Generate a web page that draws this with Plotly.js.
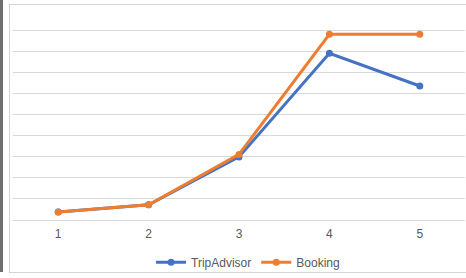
<!DOCTYPE html>
<html>
<head>
<meta charset="utf-8">
<script src="https://cdn.plot.ly/plotly-3.0.1.min.js"></script>
<style>
html,body{margin:0;padding:0;background:#fff;}
#wrap{position:relative;width:466px;height:278px;overflow:hidden;}
#bar{position:absolute;left:0;top:0;width:3px;height:272px;background:#6e6e6e;}
#frame{position:absolute;left:9px;top:4px;width:470px;height:269px;border:1px solid #d4d4d4;box-sizing:border-box;}
#chart{position:absolute;left:0;top:0;width:466px;height:278px;}
</style>
</head>
<body>
<div id="wrap">
<div id="bar"></div>
<div id="frame"></div>
<div id="chart"></div>
</div>
<script>
const categories = [1, 2, 3, 4, 5];
const tripAdvisor = [0.38, 0.72, 2.99, 7.9, 6.35];
const booking = [0.38, 0.72, 3.11, 8.8, 8.8];

const traces = [
  {x: categories, y: tripAdvisor, name: 'TripAdvisor', type: 'scatter', mode: 'lines+markers',
   line: {color: '#4472C4', width: 3}, marker: {color: '#4472C4', size: 7}},
  {x: categories, y: booking, name: 'Booking', type: 'scatter', mode: 'lines+markers',
   line: {color: '#ED7D31', width: 3}, marker: {color: '#ED7D31', size: 7}}
];

const layout = {
  width: 466, height: 278,
  margin: {l: 13, r: 1, t: 9, b: 56},
  paper_bgcolor: 'rgba(0,0,0,0)',
  plot_bgcolor: 'rgba(0,0,0,0)',
  font: {family: 'Liberation Sans, Arial, sans-serif', size: 12, color: '#595959'},
  showlegend: true,
  legend: {orientation: 'h', x: 0.52, xanchor: 'center', y: -0.2, yanchor: 'middle',
           font: {size: 12, color: '#595959'}, itemwidth: 30, tracegroupgap: 0},
  xaxis: {type: 'linear', range: [0.5, 5.5], tickvals: categories, ticktext: categories.map(String),
          showgrid: false, zeroline: false, showline: false, ticks: '', ticklabelstandoff: 5, fixedrange: true},
  yaxis: {range: [0, 10], dtick: 1, showticklabels: false, showgrid: true, gridcolor: '#d9d9d9', gridwidth: 1,
          zeroline: true, zerolinecolor: '#d9d9d9', zerolinewidth: 1, showline: false, ticks: '', fixedrange: true}
};

Plotly.newPlot('chart', traces, layout, {displayModeBar: false, staticPlot: true});
</script>
</body>
</html>
